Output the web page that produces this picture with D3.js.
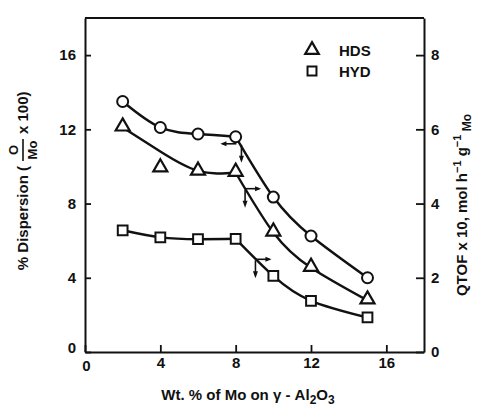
<!DOCTYPE html>
<html>
<head>
<meta charset="utf-8">
<script src="https://cdn.jsdelivr.net/npm/d3@7"></script>
<style>
  body { margin: 0; background: #fff; }
  svg { display: block; }
  text { font-family: "Liberation Sans", Arial, sans-serif; font-weight: bold; fill: #111; }
</style>
</head>
<body>
<svg id="chart" width="484" height="413"></svg>
<script>
// data
const wtMo = [2, 4, 6, 8, 10, 12, 15];
const dispersion = [13.5, 12.1, 11.75, 11.6, 8.35, 6.25, 4.0];   // left axis
const hds = [6.05, 4.95, 4.86, 4.83, 3.22, 2.27, 1.39];          // right axis
const hyd = [3.28, 3.09, 3.04, 3.05, 2.05, 1.38, 0.93];          // right axis
// fitted curve for HDS (does not go through the 4 % point)
const hdsFit = [6.05, 5.4, 4.88, 4.83, 3.22, 2.27, 1.39];

const xTicks = [0, 4, 8, 12, 16];
const leftTicks = [0, 4, 8, 12, 16];
const rightTicks = [0, 2, 4, 6, 8];
const legendNames = ["HDS", "HYD"];

const svg = d3.select("#chart");
const ink = "#111";

const x = d3.scaleLinear().domain([0, 18]).range([85, 424]);
const yL = d3.scaleLinear().domain([0, 18]).range([352, 18]);
const yR = d3.scaleLinear().domain([0, 9]).range([352, 18]);

// axes
const gx = svg.append("g").attr("transform", `translate(0,${yL(0)})`)
  .call(d3.axisBottom(x).tickValues(xTicks).tickSizeInner(-7).tickSizeOuter(0).tickPadding(5));
const gl = svg.append("g").attr("transform", `translate(${x(0)},0)`)
  .call(d3.axisLeft(yL).tickValues(leftTicks).tickSizeInner(-6).tickSizeOuter(0).tickPadding(9));
const gr = svg.append("g").attr("transform", `translate(${x(18)},0)`)
  .call(d3.axisRight(yR).tickValues(rightTicks).tickSizeInner(-8).tickSizeOuter(0).tickPadding(7));

[gx, gl, gr].forEach(g => {
  g.select(".domain").attr("stroke", ink).attr("stroke-width", 2);
  g.selectAll(".tick line").attr("stroke", ink).attr("stroke-width", 1.8);
  g.selectAll(".tick text").attr("font-size", 15).style("font-family", "Liberation Sans, sans-serif").attr("fill", ink);
});
gx.selectAll(".tick").filter(d => d === 0).select("text").attr("dx", 1).attr("dy", "0.9em");
gl.selectAll(".tick").filter(d => d === 0).select("text").attr("dy", "0.05em");

// top border
svg.append("line")
  .attr("x1", x(0)).attr("x2", x(18))
  .attr("y1", yL(18)).attr("y2", yL(18))
  .attr("stroke", ink).attr("stroke-width", 2);

// curves: two pieces, kink at 8 wt%
const seg1 = [0, 1, 2, 3], seg2 = [3, 4, 5, 6];
function drawCurve(vals, scale) {
  const line = d3.line().x(i => x(wtMo[i])).y(i => scale(vals[i])).curve(d3.curveNatural);
  [seg1, seg2].forEach(seg => {
    svg.append("path").attr("d", line(seg))
      .attr("fill", "none").attr("stroke", ink).attr("stroke-width", 2.4);
  });
}
drawCurve(dispersion, yL);
drawCurve(hdsFit, yR);
drawCurve(hyd, yR);

// markers
const marker = (sym, size) => d3.symbol().type(sym).size(size);
svg.selectAll(".circ").data(wtMo).join("circle")
  .attr("cx", d => x(d)).attr("cy", (d, i) => yL(dispersion[i])).attr("r", 5.5)
  .attr("fill", "#fff").attr("stroke", ink).attr("stroke-width", 2);
svg.selectAll(".tri").data(wtMo).join("path")
  .attr("transform", (d, i) => `translate(${x(d)},${yR(hds[i]) - 1})`)
  .attr("d", marker(d3.symbolTriangle, 85))
  .attr("fill", "#fff").attr("stroke", ink).attr("stroke-width", 2.2);
svg.selectAll(".sq").data(wtMo).join("path")
  .attr("transform", (d, i) => `translate(${x(d)},${yR(hyd[i])})`)
  .attr("d", marker(d3.symbolSquare, 95))
  .attr("fill", "#fff").attr("stroke", ink).attr("stroke-width", 2);

// axis arrows on each curve
const arrows = [
  { vals: dispersion, scale: yL, at: 8.2, dir: -1 },
  { vals: hdsFit, scale: yR, at: 8.5, dir: 1 },
  { vals: hyd, scale: yR, at: 9.05, dir: 1 }
];
function curveY(vals, scale, xv) {
  const i = d3.bisectRight(wtMo, xv) - 1;
  const t = (xv - wtMo[i]) / (wtMo[i + 1] - wtMo[i]);
  return scale(vals[i] + t * (vals[i + 1] - vals[i]));
}
arrows.forEach(a => {
  const cx = x(a.at), cy = curveY(a.vals, a.scale, a.at);
  const hx0 = a.dir < 0 ? cx - 3 : cx, hx1 = hx0 + a.dir * 14;
  svg.append("line").attr("x1", hx0).attr("x2", hx1).attr("y1", cy + 1).attr("y2", cy + 1)
    .attr("stroke", ink).attr("stroke-width", 1.6);
  svg.append("path")
    .attr("d", `M${hx1 + a.dir * 2},${cy + 1}L${hx1 - a.dir * 4},${cy - 1.5}L${hx1 - a.dir * 4},${cy + 3.5}Z`)
    .attr("fill", ink);
  const vx = a.dir < 0 ? cx + 2 : cx;
  svg.append("line").attr("x1", vx).attr("x2", vx).attr("y1", cy + 2).attr("y2", cy + 17)
    .attr("stroke", ink).attr("stroke-width", 1.6);
  svg.append("path")
    .attr("d", `M${vx},${cy + 20}L${vx - 2.5},${cy + 13}L${vx + 2.5},${cy + 13}Z`)
    .attr("fill", ink);
});

// legend
const leg = svg.append("g").attr("transform", "translate(312,50)");
leg.append("path").attr("d", marker(d3.symbolTriangle, 80)())
  .attr("fill", "#fff").attr("stroke", ink).attr("stroke-width", 2.2);
leg.append("path").attr("transform", "translate(0,21)").attr("d", marker(d3.symbolSquare, 80)())
  .attr("fill", "#fff").attr("stroke", ink).attr("stroke-width", 2);
leg.selectAll(".lt").data(legendNames).join("text")
  .attr("x", 27).attr("y", (d, i) => 6 + i * 21)
  .attr("font-size", 15).text(d => d);

// left axis title with fraction
const lt = svg.append("g").attr("transform", "translate(22,192) rotate(-90)");
lt.append("text").attr("x", 26).attr("y", 6).attr("text-anchor", "end")
  .attr("font-size", 15).text("% Dispersion (");
lt.append("text").attr("x", 42).attr("y", -4).attr("text-anchor", "middle")
  .attr("font-size", 13).text("O");
lt.append("line").attr("x1", 31).attr("x2", 53).attr("y1", 1).attr("y2", 1)
  .attr("stroke", ink).attr("stroke-width", 1.6);
lt.append("text").attr("x", 42).attr("y", 15).attr("text-anchor", "middle")
  .attr("font-size", 13).text("Mo");
lt.append("text").attr("x", 58).attr("y", 6).attr("font-size", 15).text("x 100)");

// right axis title
const rt = svg.append("text").attr("transform", "translate(467,205) rotate(-90)")
  .attr("text-anchor", "middle").attr("font-size", 15);
rt.append("tspan").text("QTOF x 10, mol h");
rt.append("tspan").attr("dy", -6).attr("font-size", 11).text("−1");
rt.append("tspan").attr("dy", 6).text(" g");
rt.append("tspan").attr("dy", -6).attr("font-size", 11).text("−1");
rt.append("tspan").attr("dy", 10).attr("font-size", 12).text(" Mo");

// x axis title
const xt = svg.append("text").attr("x", 248).attr("y", 400)
  .attr("text-anchor", "middle").attr("font-size", 15);
xt.append("tspan").text("Wt. % of Mo on γ - Al");
xt.append("tspan").attr("dy", 4).attr("font-size", 12).text("2");
xt.append("tspan").attr("dy", -4).text("O");
xt.append("tspan").attr("dy", 4).attr("font-size", 12).text("3");
</script>
</body>
</html>
